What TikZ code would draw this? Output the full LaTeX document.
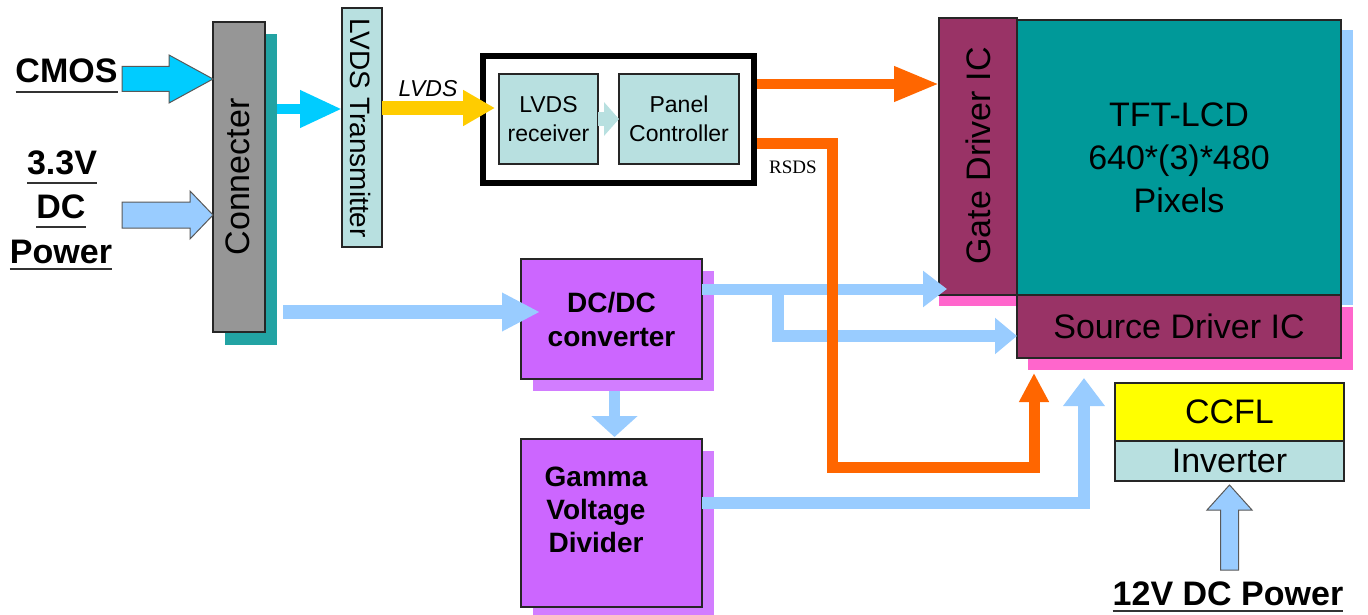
\documentclass[tikz,border=0pt]{standalone}
\usepackage{fontspec}
\setmainfont{Liberation Sans}
\newfontfamily\serifrs{Liberation Serif}
\usetikzlibrary{arrows.meta,calc}
\definecolor{cmoscyan}{HTML}{00CCFF}
\definecolor{lblue}{HTML}{99CCFF}
\definecolor{lcyan}{HTML}{B8E0E0}
\definecolor{conngray}{HTML}{969696}
\definecolor{tealsh}{HTML}{22A3A3}
\definecolor{lvdsyel}{HTML}{FFCC00}
\definecolor{orng}{HTML}{FF6600}
\definecolor{purp}{HTML}{CC66FF}
\definecolor{purpsh}{HTML}{D27DFF}
\definecolor{maroonic}{HTML}{993366}
\definecolor{pinksh}{HTML}{FF66CC}
\definecolor{tftteal}{HTML}{009999}
\definecolor{ccflyel}{HTML}{FFFF00}
\newcommand\fsz[2]{\fontsize{#1}{#2}\selectfont}
\begin{document}
\begin{tikzpicture}[x=1pt,y=-1pt,
  box/.style={draw=black!85, line width=1.3pt, inner sep=0pt, outer sep=0pt},
  shbox/.style={inner sep=0pt, outer sep=0pt},
  txt/.style={inner sep=0pt, outer sep=0pt, text=black},
  outarrow/.style={draw=black!65, line width=1pt, line join=miter},
  flow/.style={line join=miter},
  uline/.style={line width=2pt, black!80}]
\useasboundingbox (0,0) rectangle (1368,615);
\fill[white] (0,0) rectangle (1368,615);

% row / column coordinates
\coordinate (yC) at (0,79);
\coordinate (yP) at (0,215);
\coordinate (yA) at (0,109);
\coordinate (yB) at (0,108);
\coordinate (yO1) at (0,84);
\coordinate (yR) at (0,144);
\coordinate (yOb) at (0,467);
\coordinate (xO) at (832,0);
\coordinate (xO2) at (1034,0);
\coordinate (yDC) at (0,312);
\coordinate (xG) at (614.5,0);
\coordinate (yD) at (0,289);
\coordinate (yS) at (0,336);
\coordinate (br) at (778,289);
\coordinate (yGm) at (0,503);
\coordinate (xGm) at (1084,0);

% shadows
\node[shbox, fill=tealsh, minimum width=52pt, minimum height=311pt] (connsh) at (251,189.5) {};
\node[shbox, fill=purpsh, minimum width=181pt, minimum height=120pt] (dcdcsh) at (623.5,331) {};
\node[shbox, fill=purpsh, minimum width=181pt, minimum height=164pt] (gammash) at (623.5,533) {};
\node[shbox, fill=pinksh, minimum width=78pt, minimum height=277pt] (gatesh) at (978,167.5) {};
\node[shbox, fill=lblue, minimum width=324pt, minimum height=275pt] (tftsh) at (1191,167.5) {};
\node[shbox, fill=pinksh, minimum width=325pt, minimum height=63pt] (srcsh) at (1190.5,338.5) {};

% boxes
\node[box, fill=conngray, minimum width=52pt, minimum height=310pt] (conn) at (239,177) {};
\node[box, fill=lcyan, minimum width=40pt, minimum height=239pt] (trans) at (362,127.5) {};
\node[box, draw=black, line width=6pt, fill=white, minimum width=271pt, minimum height=127pt] (big) at (618.5,119.5) {};
\node[box, fill=lcyan, minimum width=99pt, minimum height=90pt, align=center, font=\fsz{23}{29}] (rx) at (548.5,119) {LVDS\\receiver};
\node[box, fill=lcyan, minimum width=120pt, minimum height=90pt, align=center, font=\fsz{23}{29}] (pc) at (679,119) {Panel\\Controller};
\node[box, fill=purp, minimum width=181pt, minimum height=120pt, align=center, font=\fsz{28}{34}\bfseries] (dcdc) at (611.5,319) {DC/DC\\converter};
\node[box, fill=purp, minimum width=181pt, minimum height=168pt] (gamma) at (611.5,523) {};
\node[box, fill=maroonic, minimum width=78pt, minimum height=277pt] (gate) at (978,156.5) {};
\node[box, fill=tftteal, minimum width=324pt, minimum height=275pt, align=center, font=\fsz{34}{43}] (tft) at (1179,157.5) {TFT-LCD\\640*(3)*480\\Pixels};
\node[box, fill=maroonic, minimum width=324pt, minimum height=63pt, font=\fsz{34}{40}] (src) at (1179,326.5) {Source Driver IC};
\node[box, fill=ccflyel, minimum width=229pt, minimum height=58pt, font=\fsz{34}{40}] (ccfl) at (1229.5,412) {CCFL};
\node[box, fill=lcyan, minimum width=229pt, minimum height=40pt, font=\fsz{34}{40}] (inv) at (1229.5,461) {Inverter};

% outlined input arrows
\coordinate (cmostip) at (conn.west |- yC);
\draw[outarrow, fill=cmoscyan] (cmostip) -- ++(-44,-24) -- ++(0,11.5) -- ++(-47,0) -- ++(0,25) -- ++(47,0) -- ++(0,11.5) -- cycle;
\coordinate (pwrtip) at (conn.west |- yP);
\draw[outarrow, fill=lblue] (pwrtip) -- ++(-23,-24) -- ++(0,11) -- ++(-68,0) -- ++(0,26) -- ++(68,0) -- ++(0,11) -- cycle;
\coordinate (vtip) at ([yshift=-4pt]inv.south);
\draw[outarrow, fill=lblue] (vtip) -- ++(-22.5,25) -- ++(13.5,0) -- ++(0,60) -- ++(18,0) -- ++(0,-60) -- ++(13.5,0) -- cycle;

% connectors
\draw[flow, cmoscyan, line width=10pt, -{Triangle[length=42pt,width=35pt]}] (connsh.east |- yA) -- (trans.west |- yA);
\draw[flow, lvdsyel, line width=14pt, shorten >=4pt, -{Triangle[length=32pt,width=34pt]}] (trans.east |- yB) -- (rx.west |- yB);
\draw[flow, lcyan, line width=14pt, -{Triangle[length=15pt,width=33pt]}] (rx.east) -- (pc.west);
\draw[flow, lblue, line width=14pt, shorten <=6pt, shorten >=-19pt, -{Triangle[length=38pt,width=36pt]}] (connsh.east |- yDC) -- (dcdc.west |- yDC);
\draw[flow, lblue, line width=11pt, shorten >=2pt, -{Triangle[length=21pt,width=45pt]}] (dcdcsh.south -| xG) -- (gamma.north -| xG);
\draw[flow, lblue, line width=11pt, shorten >=-8pt, -{Triangle[length=24pt,width=35pt]}] (dcdc.east |- yD) -- (gate.west |- yD);
\draw[flow, lblue, line width=12pt, -{Triangle[length=22pt,width=35pt]}] (br) -- (br |- yS) -- (src.west |- yS);
\draw[flow, lblue, line width=12pt, shorten >=8pt, -{Triangle[length=28pt,width=40pt]}] (gamma.east |- yGm) -- (xGm |- yGm) -- (xGm |- srcsh.south);
\draw[flow, orng, line width=10pt, shorten <=3pt, -{Triangle[length=45pt,width=33pt]}] (big.east |- yO1) -- (gate.west |- yO1);
\draw[flow, orng, line width=11pt, shorten <=3pt, shorten >=3pt, -{Triangle[length=29pt,width=28pt]}] (big.east |- yR) -- (xO |- yR) -- (xO |- yOb) -- (xO2 |- yOb) -- (xO2 |- srcsh.south);

% texts
\node[txt, rotate=90, font=\fsz{34}{40}] (conntxt) at (238,177) {Connecter};
\node[txt, rotate=-90, font=\fsz{28}{34}] (transtxt) at (361,128) {LVDS Transmitter};
\node[txt, rotate=90, font=\fsz{34}{40}] (gatetxt) at (978,156) {Gate Driver IC};
\node[txt, align=center, font=\fsz{28}{33}\bfseries] (gammatxt) at (596,510) {Gamma\\Voltage\\Divider};
\node[txt, font=\fsz{23}{28}\itshape] (lvdslbl) at (428,88.5) {LVDS};
\node[txt, font=\serifrs\fsz{19}{22}] (rsds) at (793,167) {RSDS};

\node[txt, anchor=base, font=\fsz{34}{40}\bfseries] (cmos) at (66.5,83) {CMOS};
\draw[uline] ([yshift=-9pt]cmos.base west) -- ([yshift=-9pt]cmos.base east);
\node[txt, anchor=base, font=\fsz{34}{40}\bfseries] (v33) at (62,175) {3.3V};
\draw[uline] ([yshift=-8pt]v33.base west) -- ([yshift=-8pt]v33.base east);
\node[txt, anchor=base, font=\fsz{34}{40}\bfseries] (dctxt) at (61,218) {DC};
\draw[uline] ([yshift=-9pt]dctxt.base west) -- ([yshift=-9pt]dctxt.base east);
\node[txt, anchor=base, font=\fsz{34}{40}\bfseries] (pwr) at (61,263) {Power};
\draw[uline] ([yshift=-6pt]pwr.base west) -- ([yshift=-6pt]pwr.base east);
\node[txt, anchor=base, font=\fsz{34}{40}\bfseries] (v12) at (1228,605) {12V DC Power};
\draw[uline] ([yshift=-6pt]v12.base west) -- ([yshift=-6pt]v12.base east);
\end{tikzpicture}
\end{document}
